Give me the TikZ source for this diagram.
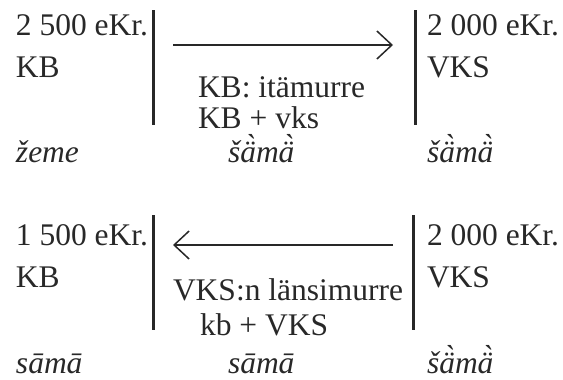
\documentclass[tikz,border=0pt]{standalone}
\usepackage{fontspec}
\setmainfont{Liberation Serif}
\usetikzlibrary{arrows.meta}
\definecolor{ink}{RGB}{40,40,40}
\begin{document}
\begin{tikzpicture}[x=1pt,y=-1pt,
  txt/.style={anchor=base west,inner sep=0pt,outer sep=0pt,text=ink,font=\fontsize{31.5}{36}\selectfont},
  ital/.style={txt,font=\fontsize{31.5}{36}\selectfont\itshape},
  bar/.style={draw=ink,line width=3pt},
  arr/.style={draw=ink,line width=1.5pt,-{Straight Barb[length=15pt,width=28pt,line width=1.5pt]}}]
\useasboundingbox (0,0) rectangle (563,380);
% top row
\node[txt] (t1) at (16,35) {2 500 eKr.};
\node[txt] (t2) at (16,77) {KB};
\node[txt] (t3) at (427,35) {2 000 eKr.};
\node[txt] (t4) at (427,77) {VKS};
\node[txt] (t5) at (198,97) {KB: itämurre};
\node[txt] (t6) at (198,128) {KB + vks};
\node[ital] (t7) at (16,162) {žeme};
\node[ital] (t8) at (228,162) {šä̀mä̀};
\node[ital] (t9) at (427,162) {šä̀mä̀};
\coordinate (b1a) at (153,10); \coordinate (b1b) at (153,125);
\coordinate (b2a) at (415,10); \coordinate (b2b) at (415,125);
\draw[bar] (b1a) -- (b1b);
\draw[bar] (b2a) -- (b2b);
\coordinate (a1s) at (173,45); \coordinate (a1e) at (393,45);
\draw[arr] (a1s) -- (a1e);
% bottom row
\node[txt] (u1) at (16,245) {1 500 eKr.};
\node[txt] (u2) at (16,287) {KB};
\node[txt] (u3) at (427,245) {2 000 eKr.};
\node[txt] (u4) at (427,287) {VKS};
\node[txt] (u5) at (173,300) {VKS:n länsimurre};
\node[txt] (u6) at (200,335) {kb + VKS};
\node[ital] (u7) at (16,373) {sāmā};
\node[ital] (u8) at (228,373) {sāmā};
\node[ital] (u9) at (427,373) {šä̀mä̀};
\coordinate (b3a) at (153,215); \coordinate (b3b) at (153,330);
\coordinate (b4a) at (413,215); \coordinate (b4b) at (413,330);
\draw[bar] (b3a) -- (b3b);
\draw[bar] (b4a) -- (b4b);
\coordinate (a2s) at (393,245); \coordinate (a2e) at (173,245);
\draw[arr] (a2s) -- (a2e);
\end{tikzpicture}
\end{document}
